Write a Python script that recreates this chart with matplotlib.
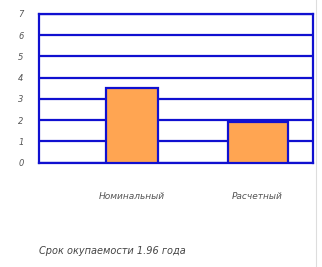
import matplotlib
matplotlib.use("Agg")
import matplotlib.pyplot as plt
from matplotlib.lines import Line2D

categories = ["Номинальный", "Расчетный"]
values = [3.5, 1.9]
yticks = [0, 1, 2, 3, 4, 5, 6, 7]
caption = "Срок окупаемости 1.96 года"

blue = "#1010D0"
orange = "#FFA552"
gray = "#555555"

fig = plt.figure(figsize=(3.22, 2.67), dpi=100)
ax = fig.add_axes([0.121, 0.391, 0.851, 0.557])

x = list(range(len(categories)))
ax.set_axisbelow(True)
ax.bar(x, values, width=[0.42, 0.48], color=orange, edgecolor=blue, linewidth=1.6, zorder=3)
ax.set_xlim(-0.74, 1.44)
ax.set_ylim(0, 7)
ax.set_yticks(yticks)
ax.set_yticklabels([str(t) for t in yticks], fontsize=6, color=gray, style="italic")
ax.yaxis.grid(True, color=blue, linewidth=1.6)
ax.tick_params(axis="y", length=0, pad=11)
ax.set_xticks([])
for s in ax.spines.values():
    s.set_color(blue)
    s.set_linewidth(1.6)

for xi, c in zip(x, categories):
    ax.text(xi, -0.2, c, transform=ax.get_xaxis_transform(), ha="center", va="top",
            fontsize=6.5, style="italic", color=gray)

fig.text(0.121, 0.06, caption, fontsize=7, style="italic", color="#444444", ha="left", va="center")
fig.add_artist(Line2D([0.982, 0.982], [0, 1], transform=fig.transFigure, color="#dddddd", linewidth=0.8))

fig.savefig("out.png", dpi=100, facecolor="white")
